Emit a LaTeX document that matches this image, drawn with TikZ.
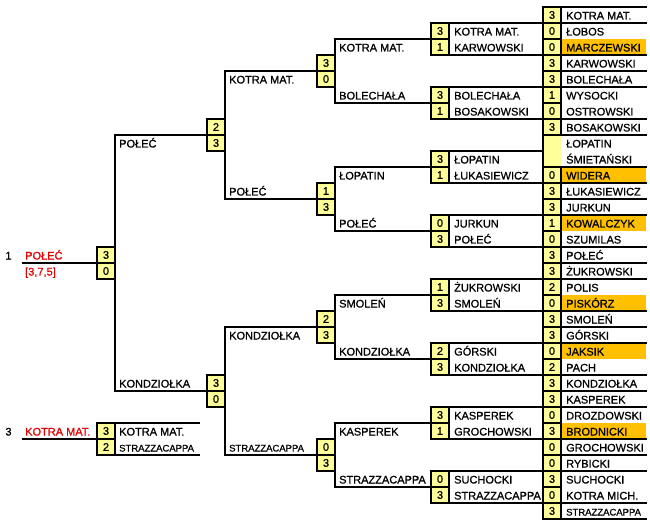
\documentclass[tikz,border=0pt]{standalone}
\usepackage{fontspec}
\setmainfont{Liberation Sans}[BoldFont={Liberation Sans},BoldFeatures={FakeBold=0.8}]
\definecolor{scoreY}{RGB}{255,255,153}
\definecolor{hiO}{RGB}{255,192,0}
\definecolor{redT}{RGB}{230,0,0}
\tikzset{
  ln/.style={line width=2pt, line cap=rect},
  sc/.style={draw, line width=2pt, fill=scoreY, minimum width=18pt, minimum height=16pt,
    inner sep=0pt, outer sep=0pt, anchor=north west, font=\fontsize{11}{12}\selectfont\bfseries},
  scnb/.style={fill=scoreY, minimum width=18pt, minimum height=16pt,
    inner sep=0pt, outer sep=0pt, anchor=north west},
  nm/.style={anchor=base west, inner sep=0pt, font=\fontsize{11}{12}\selectfont\bfseries},
  nms/.style={anchor=base west, inner sep=0pt, font=\fontsize{9.5}{11}\selectfont\bfseries},
  rednm/.style={nm, text=redT},
}
\begin{document}
\begin{tikzpicture}[x=1pt,y=-1pt]
\useasboundingbox (0,0) rectangle (650,529);
\fill[white] (0,0) rectangle (650,529);
\coordinate (redge) at (646,0);

% ---------- column 5 (first round) ----------
\foreach \s/\n/\f [count=\i from 0] in {
  3/KOTRA MAT./0, 0/ŁOBOS/0, 0/MARCZEWSKI/1, 3/KARWOWSKI/0,
  3/BOLECHAŁA/0, 1/WYSOCKI/0, 0/OSTROWSKI/0, 3/BOSAKOWSKI/0,
  -/ŁOPATIN/2, -/ŚMIETAŃSKI/2, 0/WIDERA/1, 3/ŁUKASIEWICZ/0,
  3/JURKUN/0, 1/KOWALCZYK/1, 0/SZUMILAS/0, 3/POŁEĆ/0,
  3/ŻUKROWSKI/0, 2/POLIS/0, 0/PISKÓRZ/1, 3/SMOLEŃ/0,
  3/GÓRSKI/0, 0/JAKSIK/1, 2/PACH/0, 3/KONDZIOŁKA/0,
  3/KASPEREK/0, 0/DROZDOWSKI/0, 3/BRODNICKI/1, 0/GROCHOWSKI/0,
  0/RYBICKI/0, 3/SUCHOCKI/0, 0/KOTRA MICH./0, 3/STRAZZACAPPA/3}{
  \pgfmathsetmacro\yt{7+16*\i}
  \ifnum\f=1 \fill[hiO] (562,\yt) rectangle (646,\yt+16); \fi
  \ifnum\f=2
    \node[scnb] (s5-\i) at (543,\yt) {};
  \else
    \node[sc] (s5-\i) at (543,\yt) {\s};
  \fi
  \ifnum\f=3
    \node[nms] (n5-\i) at (566,\yt+12.5) {\n};
  \else
    \node[nm] (n5-\i) at (566,\yt+12.5) {\n};
  \fi
}

% ---------- column 4 ----------
\foreach \a/\na/\b/\nb [count=\k from 0] in {
  3/KOTRA MAT./1/KARWOWSKI, 3/BOLECHAŁA/1/BOSAKOWSKI,
  3/ŁOPATIN/1/ŁUKASIEWICZ, 0/JURKUN/3/POŁEĆ,
  1/ŻUKROWSKI/3/SMOLEŃ, 2/GÓRSKI/3/KONDZIOŁKA,
  3/KASPEREK/1/GROCHOWSKI, 0/SUCHOCKI/3/STRAZZACAPPA}{
  \pgfmathsetmacro\yt{23+64*\k}
  \pgfmathsetmacro\ym{39+64*\k}
  \node[sc] (t4-\k) at (431,\yt) {\a};
  \node[sc] (b4-\k) at (431,\ym) {\b};
  \node[nm] (tn4-\k) at (454,\yt+12.5) {\na};
  \node[nm] (bn4-\k) at (454,\ym+12.5) {\nb};
}

% ---------- column 3 ----------
\foreach \a/\b/\la/\lb [count=\k from 0] in {
  3/0/KOTRA MAT./BOLECHAŁA, 1/3/ŁOPATIN/POŁEĆ,
  2/3/SMOLEŃ/KONDZIOŁKA, 0/3/KASPEREK/STRAZZACAPPA}{
  \pgfmathsetmacro\yc{71+128*\k}
  \node[sc] (t3-\k) at (317,\yc-16) {\a};
  \node[sc] (b3-\k) at (317,\yc) {\b};
  \node[nm] (tl3-\k) at (339,\yc-32+12.5) {\la};
  \node[nm] (bl3-\k) at (339,\yc+16+12.5) {\lb};
}

% ---------- column 2 ----------
\node[sc] (t2-0) at (207,119) {2};
\node[sc] (b2-0) at (207,135) {3};
\node[sc] (t2-1) at (207,375) {3};
\node[sc] (b2-1) at (207,391) {0};
\node[nm] (tl2-0) at (229,71+12.5) {KOTRA MAT.};
\node[nm] (bl2-0) at (229,183+12.5) {POŁEĆ};
\node[nm] (tl2-1) at (229,327+12.5) {KONDZIOŁKA};
\node[nms] (bl2-1) at (229,439+12.5) {STRAZZACAPPA};

% ---------- column 1 (final) ----------
\node[sc] (t1) at (97,247) {3};
\node[sc] (b1) at (97,263) {0};
\node[nm] (tl1) at (119,135+12.5) {POŁEĆ};
\node[nm] (bl1) at (119,375+12.5) {KONDZIOŁKA};
\coordinate (fin) at (23,263);
\node[nm, anchor=base] (p1) at (8.5,259.5) {1};
\node[rednm] (w1) at (25,259.5) {POŁEĆ};
\node[rednm] (w1s) at (25,275.5) {[3,7,5]};

% ---------- third place ----------
\node[sc] (t0) at (97,423) {3};
\node[sc] (b0) at (97,439) {2};
\coordinate (thr) at (23,439);
\coordinate (tre) at (199,0);
\node[nm, anchor=base] (p3) at (8.5,435.5) {3};
\node[rednm] (w3) at (25,435.5) {KOTRA MAT.};
\node[nm] (tn0) at (119,435.5) {KOTRA MAT.};
\node[nms] (bn0) at (119,451.5) {STRAZZACAPPA};

% ---------- lines ----------
% column 5 grid
\foreach \g in {0,...,7}{
  \pgfmathtruncatemacro\r{4*\g}
  \draw[ln] (s5-\r.north west) -- (s5-\r.north west -| redge);
}
\draw[ln] (s5-31.south west) -- (s5-31.south west -| redge);
\draw[ln] (s5-0.north west) -- (s5-31.south west);
% column 4 boxes extended to the right
\foreach \k in {0,...,7}{
  \ifnum\k=2
    \draw[ln] (t4-\k.north west) -- (s5-9.north west);
    \draw[ln] (s5-10.north west) -- (s5-10.north west -| redge);
  \else
    \draw[ln] (t4-\k.north west) -- (t4-\k.north west -| redge);
  \fi
  \draw[ln] (b4-\k.south west) -- (b4-\k.south west -| redge);
}
% column 3 brackets
\foreach \k in {0,...,3}{
  \pgfmathtruncatemacro\ka{2*\k}
  \pgfmathtruncatemacro\kb{2*\k+1}
  \draw[ln] (t4-\ka.south west) -| (t3-\k.south east) |- (t4-\kb.south west);
}
% column 2 brackets
\draw[ln] (t3-0.south west) -| (t2-0.south east) |- (t3-1.south west);
\draw[ln] (t3-2.south west) -| (t2-1.south east) |- (t3-3.south west);
% column 1 bracket
\draw[ln] (t2-0.south west) -| (t1.south east) |- (t2-1.south west);
\draw[ln] (t1.south west) -- (fin);
% third place
\draw[ln] (t0.south west) -- (thr);
\draw[ln] (t0.north west) -- (t0.north west -| tre);
\draw[ln] (b0.south west) -- (b0.south west -| tre);
\end{tikzpicture}
\end{document}
